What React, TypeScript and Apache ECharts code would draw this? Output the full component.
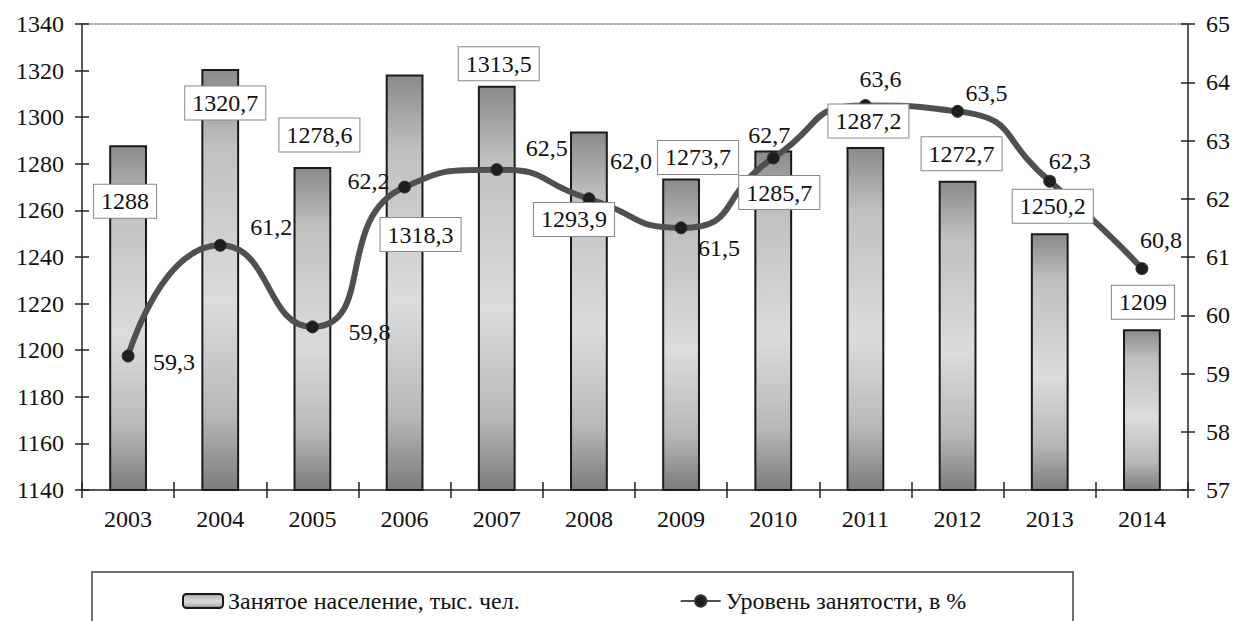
import React, { useEffect, useRef } from "react";
import * as echarts from "echarts";

const categories = ["2003", "2004", "2005", "2006", "2007", "2008", "2009", "2010", "2011", "2012", "2013", "2014"];
const employed = [1288, 1320.7, 1278.6, 1318.3, 1313.5, 1293.9, 1273.7, 1285.7, 1287.2, 1272.7, 1250.2, 1209];
const rate = [59.3, 61.2, 59.8, 62.2, 62.5, 62.0, 61.5, 62.7, 63.6, 63.5, 62.3, 60.8];

const leftMin = 1140;
const leftMax = 1340;
const leftStep = 20;
const rightMin = 57;
const rightMax = 65;
const rightStep = 1;

const seriesNames = ["Занятое население, тыс. чел.", "Уровень занятости, в %"];

// label placement (pixel offsets from bar top / point centre)
const barLabelOffsets = [
  [-3, 56], [5, 34], [7, -32], [16, 160], [2, -22], [-15, 88],
  [17, -21], [6, 42], [3, -26], [4, -27], [3, -27], [1, -27],
];
const rateLabelOffsets = [
  [46, 6], [51, -18], [57, 5], [-36, -6], [50, -22], [42, -38],
  [38, 20], [-4, -23], [15, -27], [29, -18], [20, -20], [19, -29],
];

const FONT = "Liberation Serif, serif";
const FS = 24;

const fmt = (v: number, alwaysDecimal: boolean) =>
  (alwaysDecimal || !Number.isInteger(v) ? v.toFixed(1) : String(v)).replace(".", ",");

export default function App() {
  const ref = useRef<HTMLDivElement>(null);

  useEffect(() => {
    if (!ref.current) return;
    const chart = echarts.init(ref.current, null, { renderer: "svg" });

    const barGradient = new echarts.graphic.LinearGradient(0, 0, 0, 1, [
      { offset: 0, color: "#8a8a8a" },
      { offset: 0.18, color: "#c0c0c0" },
      { offset: 0.55, color: "#dcdcdc" },
      { offset: 0.82, color: "#b8b8b8" },
      { offset: 1, color: "#7c7c7c" },
    ]);

    const axisText = { fontFamily: FONT, fontSize: FS, color: "#111" };

    chart.setOption({
      animation: false,
      backgroundColor: "#ffffff",
      textStyle: { fontFamily: FONT },
      grid: { left: 82, right: 52, top: 24, bottom: 131, containLabel: false },
      legend: {
        data: seriesNames,
        left: 177,
        top: 584,
        itemGap: 160,
        itemWidth: 40,
        itemHeight: 14,
        textStyle: { fontFamily: FONT, fontSize: FS, color: "#111" },
      },
      graphic: [
        {
          type: "rect",
          shape: { x: 92, y: 572, width: 981, height: 80 },
          style: { fill: "none", stroke: "#444", lineWidth: 1.5 },
          silent: true,
        },
      ],
      xAxis: [
        {
          type: "category",
          data: categories,
          position: "bottom",
          axisLine: { show: true, lineStyle: { color: "#222", width: 1.5 } },
          axisTick: { show: true, length: 8, lineStyle: { color: "#222", width: 1.5 } },
          axisLabel: { ...axisText, margin: 17 },
          splitLine: { show: false },
        },
        {
          type: "category",
          data: categories,
          position: "bottom",
          axisLine: { show: false },
          axisTick: { show: true, inside: true, length: 8, lineStyle: { color: "#222", width: 1.5 } },
          axisLabel: { show: false },
          splitLine: { show: false },
        },
        {
          type: "category",
          data: categories,
          position: "top",
          axisLine: { show: true, lineStyle: { color: "#aaa", width: 2, type: "dotted" } },
          axisTick: { show: false },
          axisLabel: { show: false },
          splitLine: { show: false },
        },
      ],
      yAxis: [
        {
          type: "value",
          position: "left",
          min: leftMin,
          max: leftMax,
          interval: leftStep,
          axisLine: { show: true, lineStyle: { color: "#222", width: 1.5 } },
          axisTick: { show: true, length: 7, lineStyle: { color: "#222", width: 1.5 } },
          axisLabel: { ...axisText, margin: 18, formatter: (v: number) => String(v) },
          splitLine: { show: false },
        },
        {
          type: "value",
          position: "right",
          min: rightMin,
          max: rightMax,
          interval: rightStep,
          axisLine: { show: true, lineStyle: { color: "#222", width: 1.5 } },
          axisTick: { show: true, length: 7, lineStyle: { color: "#222", width: 1.5 } },
          axisLabel: { ...axisText, margin: 18, formatter: (v: number) => String(v) },
          splitLine: { show: false },
        },
        {
          type: "value",
          position: "left",
          min: leftMin,
          max: leftMax,
          interval: leftStep,
          axisLine: { show: false },
          axisTick: { show: true, inside: true, length: 7, lineStyle: { color: "#222", width: 1.5 } },
          axisLabel: { show: false },
          splitLine: { show: false },
        },
        {
          type: "value",
          position: "right",
          min: rightMin,
          max: rightMax,
          interval: rightStep,
          axisLine: { show: false },
          axisTick: { show: true, inside: true, length: 7, lineStyle: { color: "#222", width: 1.5 } },
          axisLabel: { show: false },
          splitLine: { show: false },
        },
      ],
      series: [
        {
          name: seriesNames[0],
          type: "bar",
          xAxisIndex: 0,
          yAxisIndex: 0,
          data: employed,
          barWidth: "41%",
          barGap: "-100%",
          z: 2,
          itemStyle: { color: barGradient, borderColor: "#1a1a1a", borderWidth: 2 },
          label: { show: false },
        },
        {
          name: seriesNames[1],
          type: "line",
          xAxisIndex: 0,
          yAxisIndex: 1,
          data: rate.map((v, i) => ({
            value: v,
            label: { offset: rateLabelOffsets[i] },
          })),
          smooth: 0.6,
          z: 3,
          symbol: "circle",
          symbolSize: 12,
          lineStyle: { color: "#505050", width: 6 },
          itemStyle: { color: "#1e1e1e", borderColor: "#333", borderWidth: 1 },
          label: {
            show: true,
            position: "inside",
            align: "center",
            verticalAlign: "middle",
            fontFamily: FONT,
            fontSize: FS,
            color: "#111",
            formatter: (p: any) => fmt(p.value, true),
          },
        },
        {
          name: "labels",
          type: "bar",
          xAxisIndex: 0,
          yAxisIndex: 0,
          barWidth: "41%",
          barGap: "-100%",
          silent: true,
          z: 5,
          data: employed.map((v, i) => ({
            value: v,
            label: { offset: barLabelOffsets[i] },
          })),
          itemStyle: { color: "rgba(0,0,0,0)", borderWidth: 0 },
          label: {
            show: true,
            position: "top",
            distance: 0,
            align: "center",
            verticalAlign: "middle",
            fontFamily: FONT,
            fontSize: FS,
            color: "#111",
            backgroundColor: "#ffffff",
            borderColor: "#888",
            borderWidth: 1,
            padding: [5, 7, 4, 7],
            formatter: (p: any) => fmt(p.value, false),
          },
        },
      ],
    });

    return () => chart.dispose();
  }, []);

  return (
    <div
      ref={ref}
      style={{ position: "fixed", left: 0, top: 0, width: 1240, height: 621, background: "#fff" }}
    />
  );
}
